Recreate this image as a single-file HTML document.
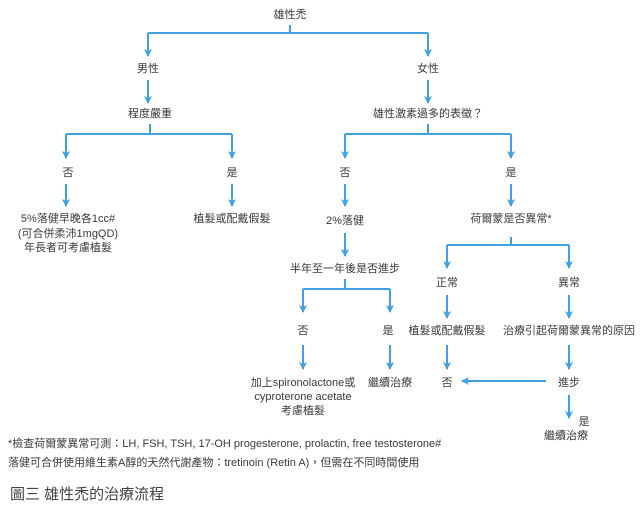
<!DOCTYPE html>
<html><head><meta charset="utf-8"><style>
html,body{margin:0;padding:0;background:#fff;}
svg{display:block;}
text{font-family:"Liberation Sans","Noto Sans CJK TC",sans-serif;font-size:11px;fill:#3a3a3a;}
</style></head><body>
<svg width="640" height="506" viewBox="0 0 640 506">
<defs><marker id="a" markerWidth="8" markerHeight="8" refX="7" refY="4" orient="auto" markerUnits="userSpaceOnUse"><path d="M0,0 L8,4 L0,8 L2,4 z" fill="#3ea2e2"/></marker></defs>
<g stroke="#3ea2e2" stroke-width="2" fill="none">
<path d="M290,25 V33 M148,33 H428"/>
<path d="M148,33 V56" marker-end="url(#a)"/><path d="M428,33 V56" marker-end="url(#a)"/>
<path d="M148,80 V103" marker-end="url(#a)"/><path d="M428,80 V103" marker-end="url(#a)"/>
<path d="M150,124 V134 M66,134 H232 M428,124 V134 M345,134 H511"/>
<path d="M66,134 V158" marker-end="url(#a)"/><path d="M232,134 V158" marker-end="url(#a)"/>
<path d="M345,134 V158" marker-end="url(#a)"/><path d="M511,134 V158" marker-end="url(#a)"/>
<path d="M66,184 V206" marker-end="url(#a)"/><path d="M232,184 V206" marker-end="url(#a)"/>
<path d="M345,184 V206" marker-end="url(#a)"/><path d="M511,184 V206" marker-end="url(#a)"/>
<path d="M345,233 V256" marker-end="url(#a)"/>
<path d="M511,237 V245 M447,245 H569"/>
<path d="M447,245 V268" marker-end="url(#a)"/><path d="M569,245 V268" marker-end="url(#a)"/>
<path d="M345,279 V289 M303,289 H390"/>
<path d="M303,289 V312" marker-end="url(#a)"/><path d="M390,289 V312" marker-end="url(#a)"/>
<path d="M447,295 V318" marker-end="url(#a)"/><path d="M569,295 V318" marker-end="url(#a)"/>
<path d="M303,345 V369" marker-end="url(#a)"/><path d="M390,345 V369" marker-end="url(#a)"/>
<path d="M447,345 V369" marker-end="url(#a)"/><path d="M569,345 V369" marker-end="url(#a)"/>
<path d="M546,381 H462" marker-end="url(#a)"/>
<path d="M569,395 V418" marker-end="url(#a)"/>
</g>
<g text-anchor="middle">
<text x="290" y="18">雄性禿</text>
<text x="148" y="72">男性</text><text x="428" y="72">女性</text>
<text x="150" y="117">程度嚴重</text><text x="428" y="117">雄性激素過多的表徵？</text>
<text x="68" y="176">否</text><text x="232" y="176">是</text><text x="345" y="176">否</text><text x="511" y="176">是</text>
<text x="68" y="222">5%落健早晚各1cc#</text><text x="68" y="237">(可合併柔沛1mgQD)</text><text x="68" y="251">年長者可考慮植髮</text>
<text x="232" y="222">植髮或配戴假髮</text>
<text x="345" y="224">2%落健</text>
<text x="511" y="222">荷爾蒙是否異常*</text>
<text x="345" y="272">半年至一年後是否進步</text>
<text x="447" y="286">正常</text><text x="569" y="286">異常</text>
<text x="303" y="334">否</text><text x="388" y="334">是</text>
<text x="447" y="334">植髮或配戴假髮</text><text x="569" y="334">治療引起荷爾蒙異常的原因</text>
<text x="303" y="386">加上spironolactone或</text><text x="303" y="400">cyproterone acetate</text><text x="303" y="414">考慮植髮</text>
<text x="390" y="386">繼續治療</text>
<text x="447" y="386">否</text>
<text x="569" y="386">進步</text>
<text x="584" y="425">是</text><text x="566" y="439">繼續治療</text>
</g>
<text x="8" y="447">*檢查荷爾蒙異常可測：LH, FSH, TSH, 17-OH progesterone, prolactin, free testosterone#</text>
<text x="8" y="466">落健可合併使用維生素A醇的天然代謝產物：tretinoin (Retin A)，但需在不同時間使用</text>
<text x="10" y="499" style="font-size:15px;fill:#444">圖三  雄性禿的治療流程</text>
</svg>
</body></html>
